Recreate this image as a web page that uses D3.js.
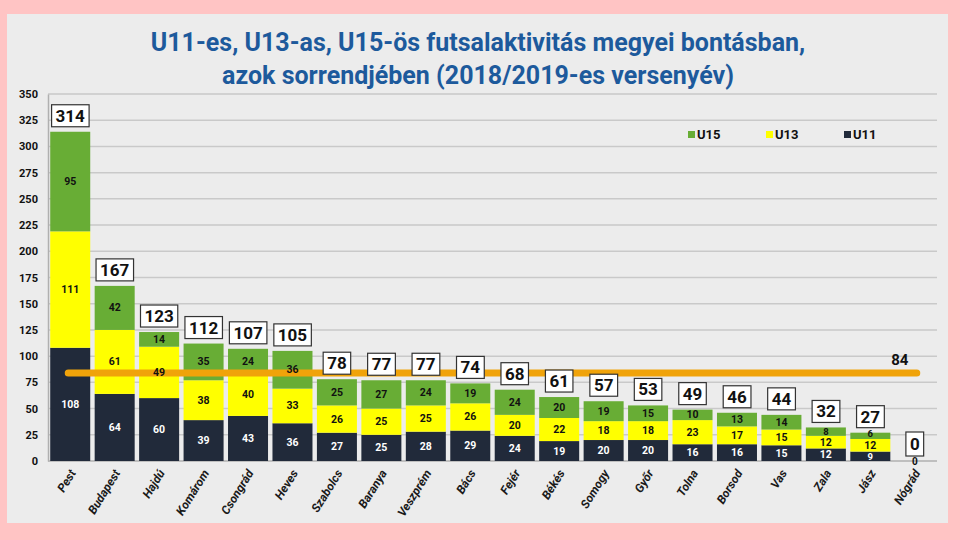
<!DOCTYPE html>
<html><head><meta charset="utf-8">
<script src="https://cdn.jsdelivr.net/npm/d3@7/dist/d3.min.js"></script>
<style>body{margin:0;background:#ffc4c4;}svg{display:block;}</style>
</head><body><svg id="c" width="960" height="540"></svg>
<script>
const categories = ["Pest","Budapest","Hajdú","Komárom","Csongrád","Heves","Szabolcs","Baranya","Veszprém","Bács","Fejér","Békés","Somogy","Győr","Tolna","Borsod","Vas","Zala","Jász","Nógrád"];
const u11 = [108,64,60,39,43,36,27,25,28,29,24,19,20,20,16,16,15,12,9,0];
const u13 = [111,61,49,38,40,33,26,25,25,26,20,22,18,18,23,17,15,12,12,0];
const u15 = [95,42,14,35,24,36,25,27,24,19,24,20,19,15,10,13,14,8,6,0];
const totals = [314,167,123,112,107,105,78,77,77,74,68,61,57,53,49,46,44,32,27,0];
const average = 84;
const yTicks = [0,25,50,75,100,125,150,175,200,225,250,275,300,325,350];
const seriesNames = ["U11","U13","U15"];
const titleLines = ["U11-es, U13-as, U15-ös futsalaktivitás megyei bontásban,","azok sorrendjében (2018/2019-es versenyév)"];

const colors = {U11:"#212a3a", U13:"#ffff00", U15:"#68ad35"};
const svg = d3.select("#c");
const font = "'Liberation Sans Narrow','Roboto','Liberation Sans',sans-serif";

svg.append("rect").attr("x",7).attr("y",14).attr("width",941).attr("height",509).attr("fill","#ececec");

titleLines.forEach((t,i)=>{
  svg.append("text").attr("x",478).attr("y",51+i*33).attr("text-anchor","middle")
    .attr("font-family",font).attr("font-weight","bold").attr("font-size",25)
    .attr("fill","#1d5a9c").text(t);
});

const m = {l:48, r:937, t:94, b:461};
const x = d3.scaleBand().domain(categories).range([m.l,m.r]).paddingInner(0.1).paddingOuter(0.05);
const y = d3.scaleLinear().domain([0,350]).range([m.b,m.t]);

// gridlines
svg.append("g").selectAll("line").data(yTicks.filter(d=>d>0)).join("line")
  .attr("x1",m.l).attr("x2",m.r).attr("y1",d=>y(d)).attr("y2",d=>y(d))
  .attr("stroke","#c9c9c9").attr("stroke-width",1.5);

// y axis
const yAxis = svg.append("g").attr("transform",`translate(${m.l},0)`)
  .call(d3.axisLeft(y).tickValues(yTicks).tickSize(0).tickPadding(10));
yAxis.select(".domain").attr("stroke","#b0b0b0").attr("stroke-width",1.5);
yAxis.selectAll("text").attr("font-family",font).attr("font-weight","bold").attr("font-size",11).attr("fill","#111");
svg.append("line").attr("x1",m.l).attr("x2",m.r).attr("y1",m.b).attr("y2",m.b).attr("stroke","#b0b0b0").attr("stroke-width",1.5);

const data = categories.map((c,i)=>({cat:c,U11:u11[i],U13:u13[i],U15:u15[i],total:totals[i]}));
const stacked = d3.stack().keys(seriesNames)(data);

const g = svg.append("g");
stacked.forEach(s=>{
  g.selectAll(null).data(s).join("rect")
    .attr("x",d=>x(d.data.cat)).attr("width",x.bandwidth())
    .attr("y",d=>y(d[1])).attr("height",d=>y(d[0])-y(d[1]))
    .attr("fill",colors[s.key]);
});

// average line
const lastC = categories[categories.length-1];
svg.append("line").attr("x1",x(categories[0])+x.bandwidth()/2-2).attr("x2",x(lastC)+x.bandwidth()/2+2)
  .attr("y1",y(average)).attr("y2",y(average)).attr("stroke","#f0a30a").attr("stroke-width",7).attr("stroke-linecap","round");
svg.append("text").attr("x",x(lastC)+x.bandwidth()/2-15).attr("y",y(average)-8).attr("text-anchor","middle")
  .attr("font-family",font).attr("font-weight","bold").attr("font-size",15).attr("fill","#111").text(average);

// segment labels (on top of the line)
const lg = svg.append("g");
stacked.forEach(s=>{
  lg.selectAll(null).data(s.filter(d=>d[1]-d[0]>0)).join("text")
    .attr("x",d=>x(d.data.cat)+x.bandwidth()/2)
    .attr("y",d=>(d[1]-d[0])<8 ? y(d[1])+4 : (y(d[0])+y(d[1]))/2+3.5)
    .attr("text-anchor","middle").attr("font-family",font).attr("font-weight","bold")
    .attr("font-size",d=>(d[1]-d[0])<10?9.5:10.5)
    .attr("fill",s.key==="U11"?"#ffffff":"#111")
    .text(d=>d[1]-d[0]);
});
lg.selectAll(null).data(data.filter(d=>d.total===0)).join("text")
  .attr("x",d=>x(d.cat)+x.bandwidth()/2).attr("y",m.b+4)
  .attr("text-anchor","middle").attr("font-family",font).attr("font-weight","bold").attr("font-size",10)
  .attr("fill","#111").text("0");

// total boxes
const tb = svg.append("g").selectAll("g").data(data).join("g")
  .attr("transform",d=>`translate(${x(d.cat)+x.bandwidth()/2},${y(d.total)-(d.total===0?17:16)})`);
tb.append("text").attr("text-anchor","middle").attr("y",6)
  .attr("font-family",font).attr("font-weight","bold").attr("font-size",17).attr("fill","#111")
  .text(d=>d.total);
tb.each(function(d){
  const t = d3.select(this).select("text");
  const bb = t.node().getBBox();
  const h = d.total===0?24:22;
  d3.select(this).insert("rect","text").attr("x",bb.x-4).attr("y",-h/2).attr("width",bb.width+8).attr("height",h)
    .attr("fill","#fff").attr("stroke","#333").attr("stroke-width",1.2);
});

// x labels
svg.append("g").selectAll("text").data(categories).join("text")
  .attr("transform",d=>`translate(${x(d)+x.bandwidth()/2+6},${m.b+12}) rotate(-58)`)
  .attr("text-anchor","end").attr("font-family",font).attr("font-style","italic").attr("font-weight","bold")
  .attr("font-size",12).attr("fill","#1a1a1a").text(d=>d);

// legend
const leg = [["U15",688],["U13",766],["U11",844]];
leg.forEach(([k,lx])=>{
  svg.append("rect").attr("x",lx).attr("y",131).attr("width",7).attr("height",7).attr("fill",colors[k]);
  svg.append("text").attr("x",lx+9).attr("y",139).attr("font-family",font).attr("font-weight","bold")
    .attr("font-size",13).attr("fill","#111").text(k);
});
</script></body></html>
